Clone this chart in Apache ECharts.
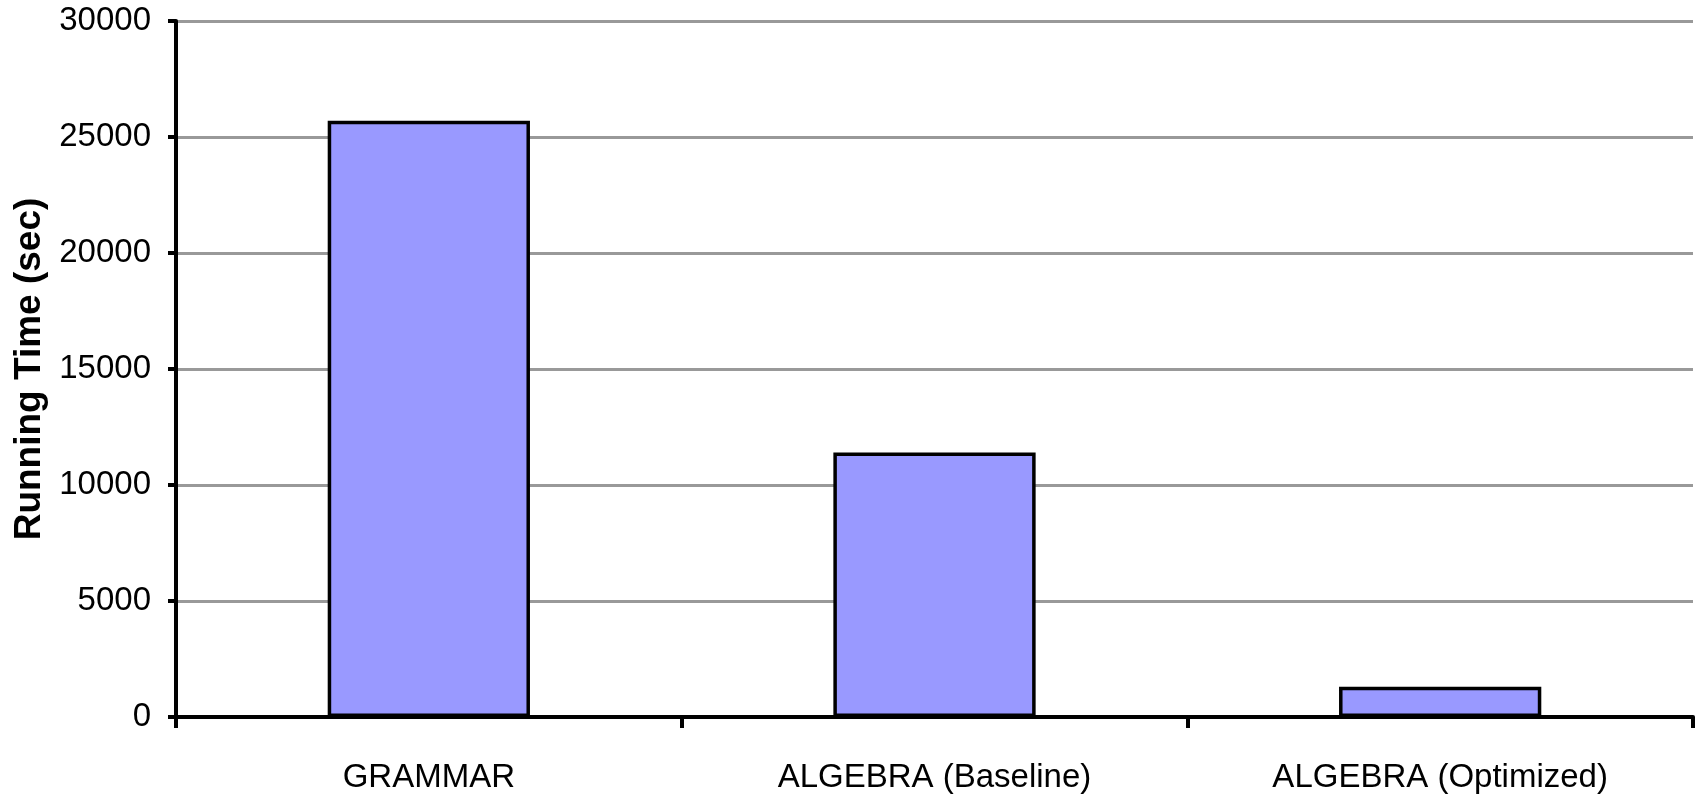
<!DOCTYPE html>
<html>
<head>
<meta charset="utf-8">
<script src="https://cdn.jsdelivr.net/npm/echarts@6/dist/echarts.min.js"></script>
<style>
  html, body { margin: 0; padding: 0; background: #ffffff; }
  #chart { width: 1702px; height: 796px; }
</style>
</head>
<body>
<div id="chart"></div>
<script>
// Running time of each approach, in seconds
const categories = ['GRAMMAR', 'ALGEBRA (Baseline)', 'ALGEBRA (Optimized)'];
const runningTime = [25700, 11400, 1300];
const yTicks = { min: 0, max: 30000, interval: 5000 };
const yAxisTitle = 'Running Time (sec)';

const labelFont = '"Liberation Sans", Arial, sans-serif';

const chart = echarts.init(document.getElementById('chart'), null, { renderer: 'canvas' });

chart.setOption({
  animation: false,
  backgroundColor: '#ffffff',
  grid: { left: 176, right: 9, top: 21, bottom: 79, containLabel: false },
  xAxis: {
    type: 'category',
    data: categories,
    axisLine: { show: true, lineStyle: { color: '#000', width: 4 } },
    axisTick: { show: true, alignWithLabel: false, length: 11, lineStyle: { color: '#000', width: 4 } },
    axisLabel: {
      color: '#000',
      fontFamily: labelFont,
      fontSize: 33,
      margin: 44
    },
    splitLine: { show: false }
  },
  yAxis: {
    type: 'value',
    min: yTicks.min,
    max: yTicks.max,
    interval: yTicks.interval,
    name: yAxisTitle,
    nameLocation: 'middle',
    nameGap: 120,
    nameRotate: 90,
    nameTextStyle: {
      color: '#000',
      fontFamily: labelFont,
      fontWeight: 'bold',
      fontSize: 37
    },
    axisLine: { show: true, lineStyle: { color: '#000', width: 4 } },
    axisTick: { show: true, length: 8, lineStyle: { color: '#000', width: 4 } },
    axisLabel: {
      color: '#000',
      fontFamily: labelFont,
      fontSize: 33,
      margin: 25,
      formatter: (v) => String(v)
    },
    splitLine: { show: true, lineStyle: { color: '#999999', width: 3 } }
  },
  series: [{
    type: 'bar',
    data: runningTime,
    barWidth: '40%',
    itemStyle: { color: '#9999FF', borderColor: '#000', borderWidth: 3.5 }
  }]
});
</script>
</body>
</html>
